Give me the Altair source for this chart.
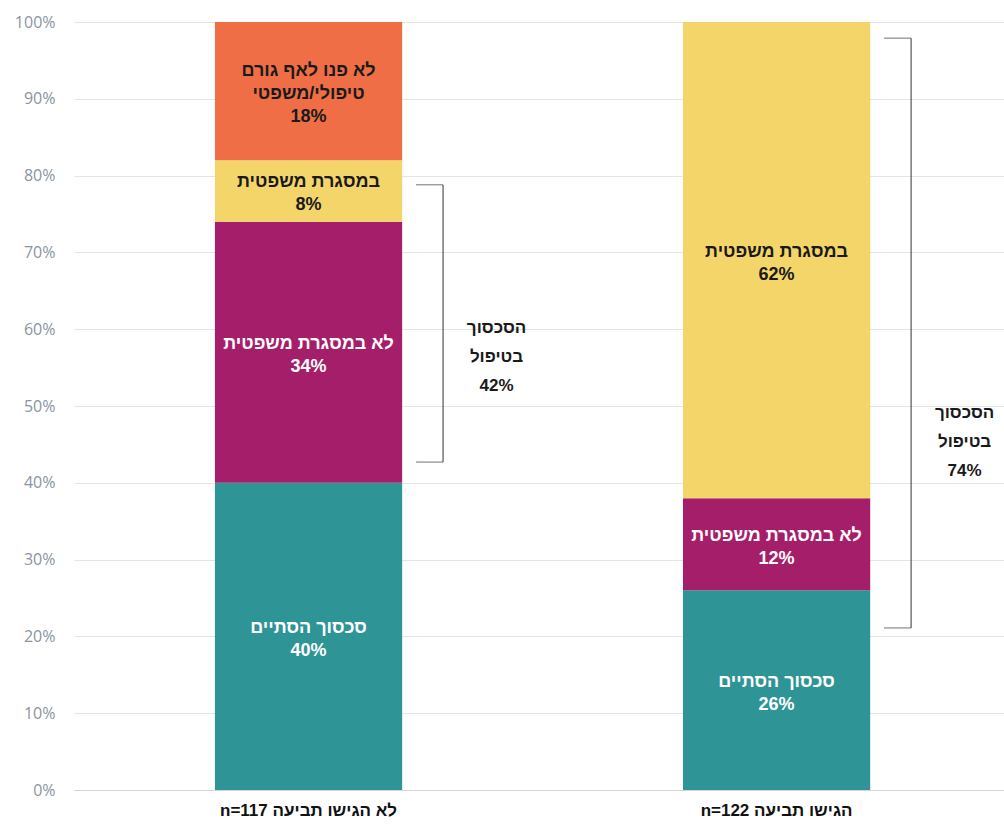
import altair as alt
import pandas as pd

# ---- data ----
groups = ["n=117 לא הגישו תביעה", "n=122 הגישו תביעה"]
segments = ["סכסוך הסתיים", "לא במסגרת משפטית", "במסגרת משפטית", "לא פנו לאף גורם טיפולי/משפטי"]
segment_lines = ["סכסוך הסתיים", "לא במסגרת משפטית", "במסגרת משפטית", "לא פנו לאף גורם\nטיפולי/משפטי"]
values_no_claim = [40, 34, 8, 18]
values_claim = [26, 12, 62, 0]

segment_colors = ["#2E9496", "#A51E6A", "#F4D56A", "#EF6E45"]
label_colors = ["#FFFFFF", "#FFFFFF", "#1A1A1A", "#1A1A1A"]

bracket_top = [78.8, 97.9]
bracket_bottom = [42.7, 21.1]
bracket_values = [42, 74]
bracket_text_y = [56.4, 45.3]
bracket_title = "הסכסוך\nבטיפול"

y_ticks = list(range(0, 101, 10))

# ---- tables ----
rows = []
for g, vals in zip(groups, [values_no_claim, values_claim]):
    acc = 0
    for seg, line, v in zip(segments, segment_lines, vals):
        if v <= 0:
            continue
        label = f"{line}\n{v}%"
        rows.append({"group": g, "segment": seg, "y0": acc, "y1": acc + v,
                     "ymid": acc + v / 2, "label": label,
                     "nlines": label.count("\n") + 1})
        acc += v
df = pd.DataFrame(rows)

br = pd.DataFrame({"group": groups, "top": bracket_top, "bottom": bracket_bottom,
                   "ty": bracket_text_y,
                   "label": [f"{bracket_title}\n{v}%" for v in bracket_values]})
br_ends = pd.DataFrame({"group": groups + groups, "y": bracket_top + bracket_bottom})

x_enc = alt.X("group:N", sort=groups,
              scale=alt.Scale(paddingInner=0.6, paddingOuter=0.2935, align=0.513),
              axis=alt.Axis(title=None, labelAngle=0, ticks=False, grid=False,
                            domain=True, domainColor="#D4D4D4",
                            labelFont="Liberation Sans", labelFontWeight="bold",
                            labelFontSize=17, labelColor="#111111", labelPadding=12))
y_scale = alt.Scale(domain=[0, 100], nice=False)

bars = alt.Chart(df).mark_bar().encode(
    x=x_enc,
    y=alt.Y("y0:Q", scale=y_scale,
            axis=alt.Axis(title=None, values=y_ticks, labelExpr="datum.value + '%'",
                          ticks=False, domain=False, gridColor="#E4E4E4",
                          labelColor="#8A95A0", labelFont="Open Sans",
                          labelFontSize=16, labelPadding=19)),
    y2="y1:Q",
    color=alt.Color("segment:N", scale=alt.Scale(domain=segments, range=segment_colors),
                    legend=None),
)

LH = 23


def seg_labels(n):
    return alt.Chart(df).transform_filter(alt.datum.nlines == n).mark_text(
        font="Liberation Sans", fontWeight="bold", fontSize=18,
        lineBreak="\n", lineHeight=LH, baseline="middle", align="center",
        dy=-(n - 1) * LH / 2 + 3,
    ).encode(
        x=alt.X("group:N", sort=groups),
        y=alt.Y("ymid:Q", scale=y_scale),
        text="label:N",
        color=alt.Color("segment:N", scale=alt.Scale(domain=segments, range=label_colors),
                        legend=None),
    )


labels2 = seg_labels(2)
labels3 = seg_labels(3)

vert = alt.Chart(br).mark_rule(xOffset=134.5, color="#333333", strokeWidth=1).encode(
    x=alt.X("group:N", sort=groups),
    y=alt.Y("top:Q", scale=y_scale),
    y2="bottom:Q",
)

ends = alt.Chart(br_ends).mark_tick(orient="horizontal", size=27, thickness=1,
                                    xOffset=121, color="#333333").encode(
    x=alt.X("group:N", sort=groups),
    y=alt.Y("y:Q", scale=y_scale),
)

BLH = 29
btext = alt.Chart(br).mark_text(dx=188, dy=-BLH, font="Liberation Sans", fontWeight="bold",
                                fontSize=17, lineBreak="\n", lineHeight=BLH,
                                baseline="middle", align="center",
                                color="#1A1A1A").encode(
    x=alt.X("group:N", sort=groups),
    y=alt.Y("ty:Q", scale=y_scale),
    text="label:N",
)

chart = alt.layer(bars, labels2, labels3, vert, ends, btext).resolve_scale(
    color="independent"
).properties(
    width=930, height=768,
    autosize=alt.AutoSizeParams(type="none"),
    padding={"left": 74, "top": 22, "right": 0, "bottom": 35},
).configure_view(stroke=None)

chart.save("out.html", embed_options={"renderer": "svg", "actions": False})
